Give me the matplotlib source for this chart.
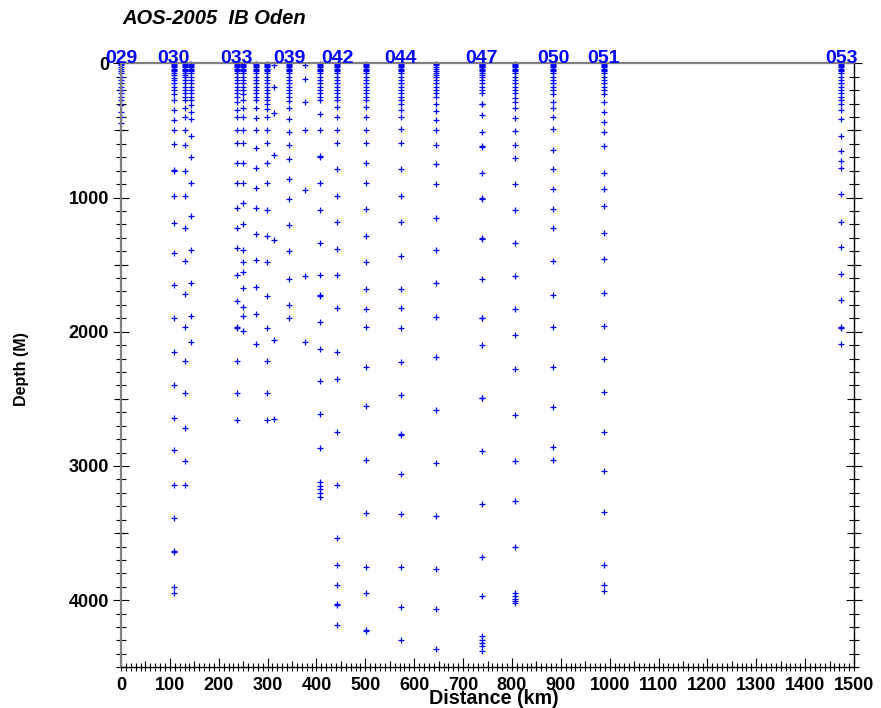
import matplotlib
matplotlib.use("Agg")
import matplotlib.pyplot as plt
from matplotlib.ticker import MultipleLocator, NullLocator

plt.rcParams["font.family"] = ["Liberation Sans", "DejaVu Sans"]

# distance along the section (km) of each cast
cast_km = [0, 108, 131, 143, 237, 249, 276, 298, 313, 344, 376,
           407, 443, 502, 572, 644, 738, 807, 885, 988, 1474]

# sample depths (m) for each cast, in the same order as cast_km
d000 = [5, 15, 25, 40, 55, 75, 100, 125, 150, 175, 200, 225, 250, 275, 310, 360, 400, 445]
d108 = [3, 10, 20, 30, 40, 50, 60, 75, 90, 110, 125, 150, 175, 200, 230, 270, 350, 420, 500,
        600, 795, 800, 990, 1190, 1410, 1655, 1900, 2150, 2395, 2640, 2880, 3140, 3385, 3630,
        3640, 3905, 3950]
d131 = [3, 10, 20, 30, 40, 50, 60, 75, 90, 100, 125, 150, 175, 200, 225, 250, 270, 330, 400,
        500, 605, 800, 990, 1225, 1470, 1720, 1965, 2215, 2460, 2715, 2960, 3140]
d143 = [3, 10, 20, 30, 40, 50, 60, 75, 100, 125, 150, 175, 200, 225, 250, 270, 310, 365, 415,
        545, 695, 890, 1140, 1390, 1635, 1885, 2075]
d237 = [3, 10, 20, 30, 40, 50, 60, 75, 100, 125, 150, 175, 200, 225, 250, 285, 345, 400, 495,
        595, 745, 890, 1080, 1230, 1375, 1575, 1770, 1965, 1970, 2220, 2460, 2660]
d249 = [3, 10, 20, 30, 40, 50, 60, 75, 100, 125, 150, 175, 200, 230, 275, 330, 400, 495, 595,
        745, 890, 1040, 1195, 1390, 1480, 1555, 1675, 1815, 1880, 1995]
d276 = [3, 10, 20, 30, 40, 50, 60, 75, 100, 125, 150, 175, 200, 225, 250, 275, 335, 410, 495,
        630, 780, 930, 1080, 1270, 1465, 1665, 1865, 2095]
d298 = [3, 10, 20, 30, 40, 50, 60, 75, 100, 125, 150, 175, 200, 225, 250, 275, 300, 340, 400,
        495, 595, 745, 890, 1090, 1285, 1480, 1730, 1970, 2220, 2460, 2660]
d313 = [10, 180, 370, 680, 1320, 2060, 2650]
d344 = [3, 10, 20, 30, 40, 50, 60, 75, 100, 125, 150, 175, 200, 225, 250, 280, 335, 415, 510,
        610, 710, 860, 1010, 1205, 1400, 1605, 1800, 1895]
d376 = [10, 115, 285, 500, 945, 1585, 2075]
d407 = [3, 10, 20, 30, 40, 50, 60, 75, 100, 125, 150, 175, 200, 225, 250, 275, 380, 495, 690,
        695, 890, 1090, 1340, 1580, 1725, 1730, 1925, 2125, 2365, 2615, 2865, 3120, 3150, 3175,
        3200, 3230]
d443 = [3, 10, 20, 30, 40, 50, 60, 75, 100, 125, 150, 175, 200, 225, 250, 275, 325, 400, 495,
        595, 790, 985, 1185, 1385, 1580, 1825, 2150, 2350, 2750, 3145, 3535, 3735, 3885, 4030,
        4035, 4185]
d502 = [3, 10, 20, 30, 40, 50, 60, 75, 100, 125, 150, 175, 200, 225, 250, 275, 325, 400, 495,
        595, 745, 890, 1085, 1285, 1480, 1680, 1830, 1965, 2265, 2555, 2955, 3350, 3750, 3945,
        4220, 4230]
d572 = [3, 10, 20, 30, 40, 50, 60, 75, 100, 125, 150, 175, 200, 225, 250, 275, 300, 345, 400,
        490, 595, 790, 985, 1185, 1435, 1680, 1825, 1975, 2225, 2470, 2760, 2770, 3060, 3360,
        3755, 4050, 4300]
d644 = [3, 12, 25, 40, 55, 70, 85, 100, 125, 150, 175, 200, 225, 250, 300, 355, 425, 500, 605,
        750, 900, 1150, 1390, 1640, 1890, 2185, 2580, 2975, 3370, 3770, 4065, 4365]
d738 = [2, 5, 10, 15, 20, 25, 30, 40, 50, 60, 75, 90, 100, 125, 150, 175, 200, 225, 300, 305,
        385, 515, 615, 620, 815, 1005, 1010, 1305, 1310, 1605, 1895, 1900, 2100, 2490, 2495,
        2890, 3280, 3680, 3970, 4270, 4295, 4320, 4345, 4375]
d807 = [3, 10, 20, 30, 40, 50, 60, 75, 100, 125, 150, 175, 200, 225, 260, 285, 335, 410, 505,
        605, 705, 900, 1095, 1340, 1585, 1830, 2025, 2275, 2620, 2960, 3260, 3605, 3950, 3970,
        3990, 4005, 4020]
d885 = [3, 10, 20, 30, 40, 50, 60, 75, 100, 125, 150, 175, 200, 230, 285, 335, 400, 490, 645,
        790, 935, 1085, 1230, 1475, 1725, 1965, 2265, 2560, 2855, 2955]
d988 = [3, 10, 20, 30, 40, 50, 60, 75, 100, 125, 150, 175, 200, 230, 285, 365, 440, 515, 615,
        815, 935, 1065, 1265, 1460, 1710, 1955, 2205, 2450, 2750, 3040, 3340, 3735, 3885, 3935]
d1474 = [3, 10, 20, 30, 40, 50, 60, 75, 100, 125, 150, 175, 200, 225, 250, 275, 300, 350, 415,
         540, 655, 725, 780, 975, 1180, 1370, 1570, 1765, 1965, 1970, 2095]

cast_depths = [d000, d108, d131, d143, d237, d249, d276, d298, d313, d344, d376,
               d407, d443, d502, d572, d644, d738, d807, d885, d988, d1474]

# station numbers written along the top
station_names = ["029", "030", "033", "039", "042", "044", "047", "050", "051", "053"]
station_km = [0, 108, 237, 344, 443, 572, 738, 885, 988, 1474]

BLUE = "#0000ff"
PX = 0.72  # points per pixel at dpi 100

fig = plt.figure(figsize=(8.81, 7.08), dpi=100)
ax = fig.add_axes([121 / 881, 1 - 667.3 / 708, 733 / 881, 604 / 708])

for km, depths in zip(cast_km, cast_depths):
    ax.plot([km] * len(depths), depths, linestyle="none", marker="+",
            markersize=4.2, markeredgewidth=0.9, color=BLUE, clip_on=False)

ax.set_xlim(0, 1500)
ax.set_ylim(4500, 0)

for name, km in zip(station_names, station_km):
    ax.text(km, 0, name, ha="center", va="baseline", color=BLUE,
            fontsize=14, fontweight="bold")

# frame
for side in ("left", "top"):
    ax.spines[side].set_color("#808080")
    ax.spines[side].set_linewidth(1.6)
for side in ("bottom", "right"):
    ax.spines[side].set_color("black")
    ax.spines[side].set_linewidth(1.0)

# x axis: labels every 100 km, ticks every 10 km, longer ones at 50 km
ax.xaxis.set_major_locator(MultipleLocator(100))
ax.xaxis.set_minor_locator(MultipleLocator(10))
ax.tick_params(axis="x", which="major", direction="in", length=8.7 * PX, width=0.8,
               pad=7.0, labelsize=13, top=False)
ax.tick_params(axis="x", which="minor", direction="in", length=4 * PX, width=0.8, top=False)

x50 = ax.secondary_xaxis("bottom")
x50.set_xticks(list(range(50, 1500, 100)))
x50.xaxis.set_minor_locator(NullLocator())
x50.tick_params(direction="in", length=6.5 * PX, width=0.8, labelbottom=False)
x50.spines["bottom"].set_visible(False)

xout = ax.secondary_xaxis("bottom")
xout.set_xticks(list(range(0, 1510, 10)))
xout.xaxis.set_minor_locator(NullLocator())
xout.tick_params(direction="out", length=4.3 * PX, width=0.8, labelbottom=False)
xout.spines["bottom"].set_visible(False)

# y axis: labels every 1000 m, ticks every 100 m, longer ones at 500 m
ax.yaxis.set_major_locator(MultipleLocator(1000))
ax.yaxis.set_minor_locator(MultipleLocator(100))
ax.tick_params(axis="y", which="major", direction="inout", length=15.4 * PX, width=0.8,
               pad=3.0, labelsize=13, left=True, right=True)
ax.tick_params(axis="y", which="minor", direction="inout", length=9.2 * PX, width=0.8,
               left=True, right=True)

for side in ("left", "right"):
    y500 = ax.secondary_yaxis(side)
    y500.set_yticks([500, 1500, 2500, 3500])
    y500.yaxis.set_minor_locator(NullLocator())
    y500.tick_params(direction="inout", length=13.4 * PX, width=0.8,
                     labelleft=False, labelright=False)
    y500.spines[side].set_visible(False)

for lab in ax.get_xticklabels() + ax.get_yticklabels():
    lab.set_fontweight("bold")

fig.text(122 / 881, 1 - 24 / 708, "AOS-2005  IB Oden", fontsize=14.5,
         fontweight="bold", fontstyle="italic", ha="left", va="baseline")
fig.text(22 / 881, 1 - 369 / 708, "Depth (M)", rotation=90, fontsize=11.5,
         fontweight="bold", ha="center", va="center")
fig.text(494 / 881, 1 - 698 / 708, "Distance (km)", fontsize=14.2,
         fontweight="bold", ha="center", va="center")

fig.savefig("out.png", dpi=100)
